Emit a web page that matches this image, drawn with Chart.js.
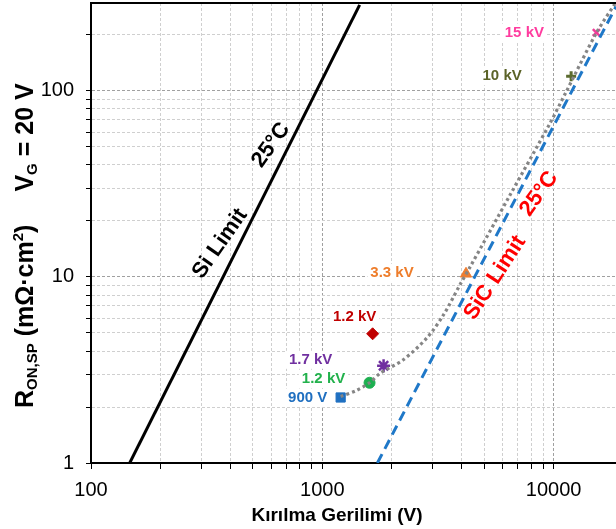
<!DOCTYPE html>
<html>
<head>
<meta charset="utf-8">
<script src="https://cdn.jsdelivr.net/npm/chart.js@4.4.1/dist/chart.umd.min.js"></script>
<style>
html,body{margin:0;padding:0;background:#fff;}
#wrap{width:616px;height:529px;position:relative;}
canvas{display:block;}
</style>
</head>
<body>
<div id="wrap"><canvas id="c" width="616" height="529" style="width:616px;height:529px"></canvas></div>
<script>
// ---------- data ----------
const deviceLabels = ['900 V', '1.2 kV', '1.7 kV', '1.2 kV', '3.3 kV', '10 kV', '15 kV'];
const deviceV = [1200, 1600, 1840, 1650, 4180, 11900, 15300];
const deviceR = [2.25, 2.7, 3.33, 4.95, 10.4, 120, 206];

const siLimitV = [147, 1450];
const siLimitR = [1, 290];
const sicLimitV = [1730, 18600];
const sicLimitR = [1, 284];

const trendV = [1200, 1400, 1600, 1780, 2240, 2830, 3340, 3940, 4350, 6470, 9640, 11330, 15300, 18600];
const trendR = [2.28, 2.45, 2.7, 3.04, 3.59, 4.7, 6.25, 9.1, 11.3, 27.5, 67, 99, 205, 300];

const xTickLabels = [100, 1000, 10000];
const yTickLabels = [1, 10, 100];

const annotationText = ['Si Limit', '25°C', 'SiC Limit', '25°C'];
const annotationV = [361, 600, 5580, 8650];
const annotationR = [15.1, 51.2, 9.9, 28];

// ---------- styles ----------
const deviceShape = ['rect', 'circle', 'star', 'rectRot', 'triangle', 'cross', 'crossRot'];
const deviceColor = ['#1F70C1', '#1DB050', '#7030A0', '#C00000', '#ED7D31', '#5B6B2F', '#F23C9A'];
const deviceRadius = [6.5, 5.5, 6.5, 6, 6.5, 5, 5];
const deviceBorder = [1, 1, 2.5, 1, 1, 3, 2.5];
const labelColor = ['#1F6FC0', '#22B14C', '#7030A0', '#C00000', '#EE7D2B', '#5B6328', '#FF3C9F'];
const labelOffset = [[-33, 0], [-46, -4], [-73, -6], [-18, -17], [-74, -1], [-69, 0], [-72, 0]];
const annotationColor = ['#000', '#000', '#FF0000', '#FF0000'];
const annotationAngle = [-55, -54, -57, -54];

const FONT = '"Liberation Sans", Arial, sans-serif';

function decadeTicks(min, max) {
  const out = [];
  for (let e = Math.floor(Math.log10(min)); e <= Math.ceil(Math.log10(max)); e++) {
    for (let m = 1; m <= 9; m++) {
      const v = m * Math.pow(10, e);
      if (v >= min - 1e-9 && v <= max + 1e-9) out.push(v);
    }
  }
  return out;
}
const isMajor = (v, list) => list.some(t => Math.abs(t - v) < 1e-6 * t);

const X_MIN = 100, X_MAX = 18600, Y_MIN = 1, Y_MAX = 297;

const labelBoxes = {
  id: 'labelBoxes',
  beforeDatasetsDraw(chart) {
    const ctx = chart.ctx;
    const xs = chart.scales.x, ys = chart.scales.y;
    ctx.save();
    ctx.font = 'bold 15px ' + FONT;
    ctx.fillStyle = '#fff';
    deviceLabels.forEach((t, i) => {
      const px = xs.getPixelForValue(deviceV[i]) + labelOffset[i][0];
      const py = ys.getPixelForValue(deviceR[i]) + labelOffset[i][1];
      const w = ctx.measureText(t).width + 6;
      ctx.fillRect(px - w / 2, py - 9, w, 18);
    });
    ctx.restore();
  }
};

const decor = {
  id: 'decor',
  afterDatasetsDraw(chart) {
    const ctx = chart.ctx;
    const xs = chart.scales.x, ys = chart.scales.y;
    ctx.save();
    ctx.font = 'bold 15px ' + FONT;
    ctx.textAlign = 'center';
    ctx.textBaseline = 'middle';
    deviceLabels.forEach((t, i) => {
      const px = xs.getPixelForValue(deviceV[i]) + labelOffset[i][0];
      const py = ys.getPixelForValue(deviceR[i]) + labelOffset[i][1];
      ctx.fillStyle = labelColor[i];
      ctx.fillText(t, px, py);
    });
    ctx.restore();
    annotationText.forEach((t, i) => {
      const px = xs.getPixelForValue(annotationV[i]);
      const py = ys.getPixelForValue(annotationR[i]);
      ctx.save();
      ctx.translate(px, py);
      ctx.rotate(annotationAngle[i] * Math.PI / 180);
      ctx.font = 'bold 22px ' + FONT;
      ctx.fillStyle = annotationColor[i];
      ctx.textAlign = 'center';
      ctx.textBaseline = 'middle';
      ctx.fillText(t, 0, 0);
      ctx.restore();
    });
  },
  afterDraw(chart) {
    const ctx = chart.ctx;
    const a = chart.chartArea;
    ctx.save();
    ctx.strokeStyle = '#000';
    ctx.lineWidth = 2;
    ctx.beginPath();
    ctx.moveTo(a.left - 1, a.top);
    ctx.lineTo(a.right, a.top);
    ctx.stroke();
    ctx.restore();

    ctx.save();
    ctx.font = 'bold 19px ' + FONT;
    ctx.fillStyle = '#000';
    ctx.textAlign = 'center';
    ctx.textBaseline = 'middle';
    ctx.fillText('Kırılma Gerilimi (V)', 337, 516);
    ctx.restore();

    const parts1 = [
      {t: 'R', s: 25, dy: 0},
      {t: 'ON,SP', s: 15, dy: 4},
      {t: ' (mΩ·cm', s: 25, dy: 0},
      {t: '2', s: 15, dy: -10},
      {t: ')', s: 25, dy: 0}
    ];
    const parts2 = [
      {t: 'V', s: 25, dy: 0},
      {t: 'G', s: 15, dy: 4},
      {t: ' = 20 V', s: 25, dy: 0}
    ];
    ctx.save();
    ctx.translate(33, 408);
    ctx.rotate(-Math.PI / 2);
    ctx.fillStyle = '#000';
    ctx.textAlign = 'left';
    ctx.textBaseline = 'alphabetic';
    let x = 0;
    const drawParts = (parts) => {
      parts.forEach(p => {
        ctx.font = 'bold ' + p.s + 'px ' + FONT;
        ctx.fillText(p.t, x, p.dy);
        x += ctx.measureText(p.t).width;
      });
    };
    drawParts(parts1);
    x += 33;
    drawParts(parts2);
    ctx.restore();
  }
};

const gridColor = (list) => (c) => (c.tick && isMajor(c.tick.value, list)) ? '#a0a0a0' : '#cfcfcf';
const zeroPad = (s) => { s.paddingLeft = 0; s.paddingRight = 0; s.paddingTop = 0; s.paddingBottom = 0; };

new Chart(document.getElementById('c'), {
  type: 'scatter',
  data: {
    datasets: [
      {
        label: 'Si Limit',
        data: siLimitV.map((v, i) => ({x: v, y: siLimitR[i]})),
        showLine: true, borderColor: '#000', borderWidth: 3, pointRadius: 0
      },
      {
        label: 'SiC Limit',
        data: sicLimitV.map((v, i) => ({x: v, y: sicLimitR[i]})),
        showLine: true, borderColor: '#1F78C8', borderWidth: 3, borderDash: [10, 6], pointRadius: 0
      },
      {
        label: 'Trend',
        data: trendV.map((v, i) => ({x: v, y: trendR[i]})),
        showLine: true, borderColor: '#858585', borderWidth: 3.2, borderDash: [3, 3],
        tension: 0.3, pointRadius: 0
      },
      {
        label: 'Devices',
        data: deviceV.map((v, i) => ({x: v, y: deviceR[i]})),
        pointStyle: deviceShape,
        pointRadius: deviceRadius,
        pointBackgroundColor: deviceColor,
        pointBorderColor: deviceColor,
        pointBorderWidth: deviceBorder,
        showLine: false
      }
    ]
  },
  options: {
    responsive: false,
    animation: false,
    devicePixelRatio: 1,
    layout: {autoPadding: false, padding: {top: 3, right: 0, left: 0, bottom: 0}},
    plugins: {legend: {display: false}, tooltip: {enabled: false}},
    scales: {
      x: {
        type: 'logarithmic',
        min: X_MIN, max: X_MAX,
        afterBuildTicks: (s) => { s.ticks = decadeTicks(X_MIN, 10000).map(v => ({value: v})); },
        afterFit: (s) => { s.height = 66; zeroPad(s); },
        ticks: {
          autoSkip: false, maxRotation: 0, padding: 9,
          color: '#000', font: {family: FONT, size: 20},
          callback: (v) => isMajor(v, xTickLabels) ? String(Math.round(v)) : ''
        },
        grid: {
          color: gridColor(xTickLabels), lineWidth: 1,
          tickLength: 6, tickColor: '#000', tickWidth: 1, tickBorderDash: []
        },
        border: {display: true, color: '#000', width: 2, dash: [3, 2]}
      },
      y: {
        type: 'logarithmic',
        min: Y_MIN, max: Y_MAX,
        afterBuildTicks: (s) => { s.ticks = decadeTicks(Y_MIN, 200).map(v => ({value: v})); },
        afterFit: (s) => { s.width = 91; zeroPad(s); },
        ticks: {
          autoSkip: false, padding: 12,
          color: '#000', font: {family: FONT, size: 20},
          callback: (v) => isMajor(v, yTickLabels) ? String(Math.round(v)) : ''
        },
        grid: {
          color: gridColor(yTickLabels), lineWidth: 1,
          tickLength: 5, tickColor: '#000', tickWidth: 1, tickBorderDash: []
        },
        border: {display: true, color: '#000', width: 2, dash: [3, 2]}
      }
    }
  },
  plugins: [labelBoxes, decor]
});
</script>
</body>
</html>
